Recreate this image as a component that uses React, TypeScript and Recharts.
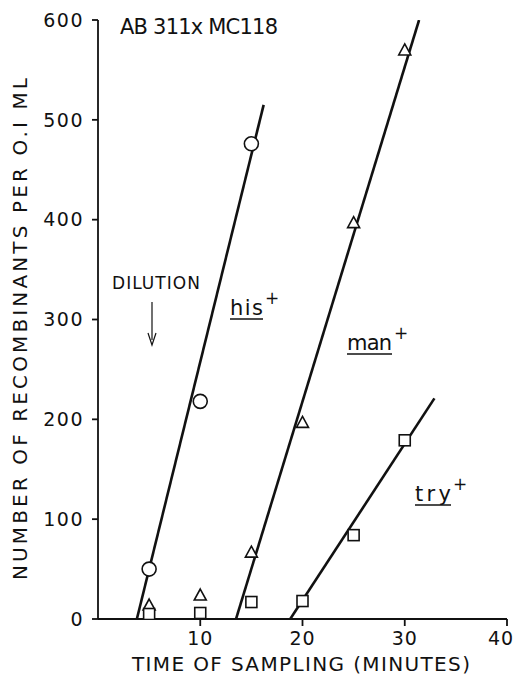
import {
  ComposedChart,
  Line,
  Scatter,
  XAxis,
  YAxis,
  Customized,
} from "recharts";

// sampling times (minutes)
const hisTimes = [5, 10, 15];
const hisCounts = [50, 218, 476];
const manTimes = [5, 10, 15, 20, 25, 30];
const manCounts = [14, 24, 67, 197, 397, 570];
const tryTimes = [5, 10, 15, 20, 25, 30];
const tryCounts = [5, 6, 17, 18, 84, 179];

// fitted lines
const hisFit = [
  { x: 3.8, y: 0 },
  { x: 16.2, y: 515 },
];
const manFit = [
  { x: 13.5, y: 0 },
  { x: 31.4, y: 600 },
];
const tryFit = [
  { x: 18.8, y: 0 },
  { x: 32.9, y: 221 },
];

const xTicks = [10, 20, 30, 40];
const yTicks = [0, 100, 200, 300, 400, 500, 600];

const toPoints = (xs: number[], ys: number[]) =>
  xs.map((x, i) => ({ x, y: ys[i] }));

const hisData = toPoints(hisTimes, hisCounts);
const manData = toPoints(manTimes, manCounts);
const tryData = toPoints(tryTimes, tryCounts);

const FONT = "'DejaVu Sans', sans-serif";
const INK = "#111";

const Circle = (p: any) => (
  <circle cx={p.cx} cy={p.cy} r={7} fill="#fff" stroke={INK} strokeWidth={1.6} />
);
const Triangle = (p: any) => (
  <path
    d={`M${p.cx},${p.cy - 6} L${p.cx + 6},${p.cy + 5} L${p.cx - 6},${p.cy + 5} Z`}
    fill="#fff"
    stroke={INK}
    strokeWidth={1.6}
  />
);
const Square = (p: any) => (
  <rect
    x={p.cx - 5.5}
    y={p.cy - 5.5}
    width={11}
    height={11}
    fill="#fff"
    stroke={INK}
    strokeWidth={1.6}
  />
);

// last label sits a bit left of its tick, as in the original
const XTick = (p: any) => {
  const shift = p.payload.value === 40 ? -6 : 0;
  return (
    <text
      x={p.x + shift}
      y={p.y + 17}
      textAnchor="middle"
      fontSize={19}
      fontFamily={FONT}
      fill={INK}
      letterSpacing={1}
    >
      {p.payload.value}
    </text>
  );
};

function Gene({ x, y, name, width }: { x: number; y: number; name: string; width: number }) {
  return (
    <g fontFamily={FONT} fill={INK}>
      <text x={x} y={y} fontSize={21} textLength={width} lengthAdjust="spacing">
        {name}
      </text>
      <line x1={x} x2={x + width} y1={y + 4} y2={y + 4} stroke={INK} strokeWidth={1.5} />
      <text x={x + width + 2} y={y - 11} fontSize={17}>
        +
      </text>
    </g>
  );
}

function Annotations() {
  return (
    <g fontFamily={FONT} fill={INK}>
      <text x={120} y={34} fontSize={21} textLength={158} lengthAdjust="spacing">
        AB 311x MC118
      </text>
      <text x={112} y={289} fontSize={17} textLength={88} lengthAdjust="spacing">
        DILUTION
      </text>
      <line x1={152} x2={152} y1={302} y2={340} stroke={INK} strokeWidth={1.2} />
      <path d="M148,333 L152,345 L156,333" fill="none" stroke={INK} strokeWidth={1.2} />
      <Gene x={230} y={315} name="his" width={33} />
      <Gene x={347} y={350} name="man" width={45} />
      <Gene x={415} y={501} name="try" width={36} />
      <text x={132} y={671} fontSize={20} textLength={338} lengthAdjust="spacing">
        TIME OF SAMPLING (MINUTES)
      </text>
      <text
        x={0}
        y={0}
        fontSize={20}
        textAnchor="middle"
        textLength={502}
        lengthAdjust="spacing"
        transform="translate(27,329) rotate(-90)"
      >
        NUMBER OF RECOMBINANTS PER O.I ML
      </text>
    </g>
  );
}

export default function App() {
  const tickStyle = { fontSize: 19, fill: INK, fontFamily: FONT, letterSpacing: 1.5 };
  return (
    <div style={{ position: "absolute", left: 0, top: 0, background: "#fff" }}>
      <ComposedChart
        width={519}
        height={678}
        margin={{ top: 20, right: 12, bottom: 29, left: 38 }}
      >
        <XAxis
          type="number"
          dataKey="x"
          domain={[0, 40]}
          ticks={xTicks}
          allowDataOverflow
          stroke={INK}
          strokeWidth={1.8}
          tickSize={7}
          tick={XTick}
          height={30}
        />
        <YAxis
          type="number"
          dataKey="y"
          domain={[0, 600]}
          ticks={yTicks}
          allowDataOverflow
          stroke={INK}
          strokeWidth={1.8}
          tickSize={6}
          tickMargin={8}
          tick={tickStyle}
          width={60}
        />
        <Line data={hisFit} dataKey="y" stroke={INK} strokeWidth={2.6} dot={false} isAnimationActive={false} />
        <Line data={manFit} dataKey="y" stroke={INK} strokeWidth={2.6} dot={false} isAnimationActive={false} />
        <Line data={tryFit} dataKey="y" stroke={INK} strokeWidth={2.6} dot={false} isAnimationActive={false} />
        <Scatter data={hisData} dataKey="y" shape={Circle} isAnimationActive={false} />
        <Scatter data={manData} dataKey="y" shape={Triangle} isAnimationActive={false} />
        <Scatter data={tryData} dataKey="y" shape={Square} isAnimationActive={false} />
        <Customized component={Annotations} />
      </ComposedChart>
    </div>
  );
}
